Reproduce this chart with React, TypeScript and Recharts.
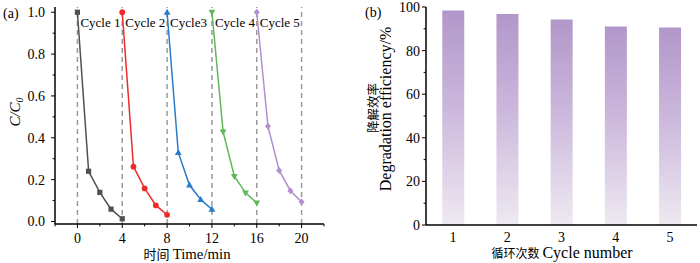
import React from 'react';
import { LineChart, Line, XAxis, YAxis, ReferenceLine, BarChart, Bar } from 'recharts';

const serif = '"Liberation Serif", "Times New Roman", "Noto Sans CJK SC", serif';

// panel (a): C/C0 over five cycles
const cycleNames = ['Cycle 1', 'Cycle 2', 'Cycle3', 'Cycle 4', 'Cycle 5'];
const cycleColors = ['#505050', '#ee2b2b', '#2a7bc9', '#5fb75a', '#b48fd0'];
const cycleShapes = ['square', 'circle', 'triangleUp', 'triangleDown', 'diamond'];

const time1 = [0, 1, 2, 3, 4];
const time2 = [4, 5, 6, 7, 8];
const time3 = [8, 9, 10, 11, 12];
const time4 = [12, 13, 14, 15, 16];
const time5 = [16, 17, 18, 19, 20];

const ratio1 = [1.0, 0.24, 0.139, 0.059, 0.013];
const ratio2 = [1.0, 0.262, 0.158, 0.077, 0.032];
const ratio3 = [1.0, 0.329, 0.174, 0.105, 0.058];
const ratio4 = [1.0, 0.428, 0.216, 0.137, 0.089];
const ratio5 = [1.0, 0.455, 0.244, 0.147, 0.093];

const timeTicks = [0, 4, 8, 12, 16, 20];
const timeMinorTicks = [-2, 2, 6, 10, 14, 18, 22];
const ratioTicks = [0, 0.2, 0.4, 0.6, 0.8, 1.0];
const ratioMinorTicks = [0.1, 0.3, 0.5, 0.7, 0.9];

// panel (b): degradation efficiency per cycle
const cycleNumbers = ['1', '2', '3', '4', '5'];
const efficiency = [98.4, 96.8, 94.3, 91.1, 90.6];
const effTicks = [0, 20, 40, 60, 80, 100];
const effMinorTicks = [10, 30, 50, 70, 90];

const allTimes = [time1, time2, time3, time4, time5];
const allRatios = [ratio1, ratio2, ratio3, ratio4, ratio5];
const cycleSeries = allTimes.map((times, i) =>
  times.map((t, j) => ({ time: t, ratio: allRatios[i][j] }))
);
const barData = cycleNumbers.map((c, i) => ({ cycle: c, efficiency: efficiency[i] }));

const byValue = (a: number, b: number) => a - b;
const TICK = 4;

function makeDot(shape: string, color: string) {
  return (props: any) => {
    const { cx, cy, index } = props;
    if (cx == null || cy == null) return <g key={index} />;
    const s = 3;
    if (shape === 'square')
      return <rect key={index} x={cx - 2.6} y={cy - 2.6} width={5.2} height={5.2} fill={color} />;
    if (shape === 'circle') return <circle key={index} cx={cx} cy={cy} r={2.9} fill={color} />;
    if (shape === 'triangleUp')
      return (
        <polygon key={index} fill={color}
          points={`${cx},${cy - s - 0.6} ${cx - s - 0.4},${cy + s - 0.6} ${cx + s + 0.4},${cy + s - 0.6}`} />
      );
    if (shape === 'triangleDown')
      return (
        <polygon key={index} fill={color}
          points={`${cx},${cy + s + 0.6} ${cx - s - 0.4},${cy - s + 0.6} ${cx + s + 0.4},${cy - s + 0.6}`} />
      );
    return (
      <polygon key={index} fill={color}
        points={`${cx},${cy - s - 0.5} ${cx + s},${cy} ${cx},${cy + s + 0.5} ${cx - s},${cy}`} />
    );
  };
}

function LeftTick(props: any) {
  const { x, y, payload, majors, margin, fmt } = props;
  const major = majors.includes(payload.value);
  const axisX = x + margin + TICK;
  const len = major ? TICK : 2.4;
  return (
    <g>
      <line x1={axisX - len} x2={axisX} y1={y} y2={y} stroke="#000" strokeWidth={1} />
      {major && (
        <text x={x} y={y} dy="0.35em" textAnchor="end" fontSize={14} fontFamily={serif} fill="#000">
          {fmt(payload.value)}
        </text>
      )}
    </g>
  );
}

function BottomTick(props: any) {
  const { x, y, payload, majors, margin } = props;
  const major = majors.includes(payload.value);
  const axisY = y - margin - TICK;
  const len = major ? TICK : 2.4;
  return (
    <g>
      <line x1={x} x2={x} y1={axisY} y2={axisY + len} stroke="#000" strokeWidth={1} />
      {major && (
        <text x={x} y={y} dy="0.71em" textAnchor="middle" fontSize={14} fontFamily={serif} fill="#000">
          {payload.value}
        </text>
      )}
    </g>
  );
}

function CycleLabel(props: any) {
  const { viewBox, text } = props;
  if (!viewBox) return null;
  return (
    <text x={viewBox.x + 3} y={viewBox.y + 19.5} fontSize={13} fontFamily={serif} fill="#000">
      {text}
    </text>
  );
}

function CyclePanel() {
  const yTicks = [...ratioTicks, ...ratioMinorTicks].sort(byValue);
  const xTicks = [...timeTicks, ...timeMinorTicks].sort(byValue);
  return (
    <LineChart width={350} height={263} margin={{ top: 7, right: 26, bottom: 0, left: 0 }}>
      <XAxis
        type="number"
        dataKey="time"
        domain={[-2, 22]}
        ticks={xTicks}
        interval={0}
        height={39}
        tickSize={TICK}
        tickMargin={5}
        tickLine={false}
        axisLine={{ stroke: '#000', strokeWidth: 1.5 }}
        tick={<BottomTick majors={timeTicks} margin={5} />}
      />
      <XAxis xAxisId="top" type="number" domain={[-2, 22]} orientation="top" height={0}
        tick={false} tickLine={false} axisLine={{ stroke: '#000', strokeWidth: 1.5 }} />
      <YAxis
        type="number"
        domain={[-0.012, 1.025]}
        ticks={yTicks}
        interval={0}
        width={55}
        tickSize={TICK}
        tickMargin={6}
        tickLine={false}
        axisLine={{ stroke: '#000', strokeWidth: 1.5 }}
        tick={<LeftTick majors={ratioTicks} margin={6} fmt={(v: number) => v.toFixed(1)} />}
      />
      <YAxis yAxisId="right" orientation="right" width={0} domain={[0, 1]}
        tick={false} tickLine={false} axisLine={{ stroke: '#000', strokeWidth: 1.5 }} />
      {timeTicks.map((t, i) => (
        <ReferenceLine
          key={t}
          x={t}
          stroke="#9a9a9a"
          strokeWidth={1.5}
          strokeDasharray="5 4"
          label={i < cycleNames.length ? <CycleLabel text={cycleNames[i]} /> : undefined}
        />
      ))}
      {cycleSeries.map((data, i) => (
        <Line
          key={cycleNames[i]}
          data={data}
          dataKey="ratio"
          stroke={cycleColors[i]}
          strokeWidth={1.5}
          dot={makeDot(cycleShapes[i], cycleColors[i])}
          activeDot={false}
          isAnimationActive={false}
        />
      ))}
    </LineChart>
  );
}

function EfficiencyPanel() {
  const yTicks = [...effTicks, ...effMinorTicks].sort(byValue);
  return (
    <BarChart width={350} height={263} data={barData} barCategoryGap="30%"
      margin={{ top: 7, right: 3, bottom: 0, left: 0 }}>
      <defs>
        <linearGradient id="barFade" x1="0" y1="0" x2="0" y2="1">
          <stop offset="0%" stopColor="#b197c9" />
          <stop offset="45%" stopColor="#cbb7dc" />
          <stop offset="100%" stopColor="#eee9f1" />
        </linearGradient>
      </defs>
      <XAxis
        dataKey="cycle"
        height={38}
        tickLine={false}
        tickSize={0}
        tickMargin={7}
        axisLine={{ stroke: '#000', strokeWidth: 1.5 }}
        tick={{ fontSize: 14, fontFamily: serif, fill: '#000' }}
      />
      <XAxis xAxisId="top" dataKey="cycle" orientation="top" height={0}
        tick={false} tickLine={false} axisLine={{ stroke: '#000', strokeWidth: 1.5 }} />
      <YAxis
        type="number"
        domain={[0, 100]}
        ticks={yTicks}
        interval={0}
        width={76}
        tickSize={TICK}
        tickMargin={2}
        tickLine={false}
        axisLine={{ stroke: '#000', strokeWidth: 1.5 }}
        tick={<LeftTick majors={effTicks} margin={2} fmt={(v: number) => String(v)} />}
      />
      <YAxis yAxisId="right" orientation="right" width={0} domain={[0, 100]}
        tick={false} tickLine={false} axisLine={{ stroke: '#000', strokeWidth: 1.5 }} />
      <Bar dataKey="efficiency" fill="url(#barFade)" isAnimationActive={false} />
    </BarChart>
  );
}

export default function App() {
  return (
    <div style={{ position: 'absolute', left: 0, top: 0, width: 700, height: 263, background: '#fff' }}>
      <div style={{ position: 'absolute', left: 0, top: 0 }}>
        <CyclePanel />
      </div>
      <div style={{ position: 'absolute', left: 350, top: 0 }}>
        <EfficiencyPanel />
      </div>
      <svg width={700} height={263} style={{ position: 'absolute', left: 0, top: 0, pointerEvents: 'none' }}
        fontFamily={serif} fill="#000">
        <text x={3} y={18} fontSize={14}>(a)</text>
        <text x={365} y={17} fontSize={14}>(b)</text>
        <text x={187} y={259} textAnchor="middle">
          <tspan fontSize={13}>时间 </tspan>
          <tspan fontSize={14.8}>Time/min</tspan>
        </text>
        <text transform="translate(20,112) rotate(-90)" textAnchor="middle" fontSize={15} fontStyle="italic">
          C/C<tspan fontSize={10} dy={3}>0</tspan>
        </text>
        <text x={562} y={258} textAnchor="middle">
          <tspan fontSize={12}>循环次数 </tspan>
          <tspan fontSize={16}>Cycle number</tspan>
        </text>
        <text transform="translate(378,108) rotate(-90)" textAnchor="middle" fontSize={12.5}>降解效率</text>
        <text transform="translate(391,109) rotate(-90)" textAnchor="middle" fontSize={16}>
          Degradation efficiency/%
        </text>
      </svg>
    </div>
  );
}
